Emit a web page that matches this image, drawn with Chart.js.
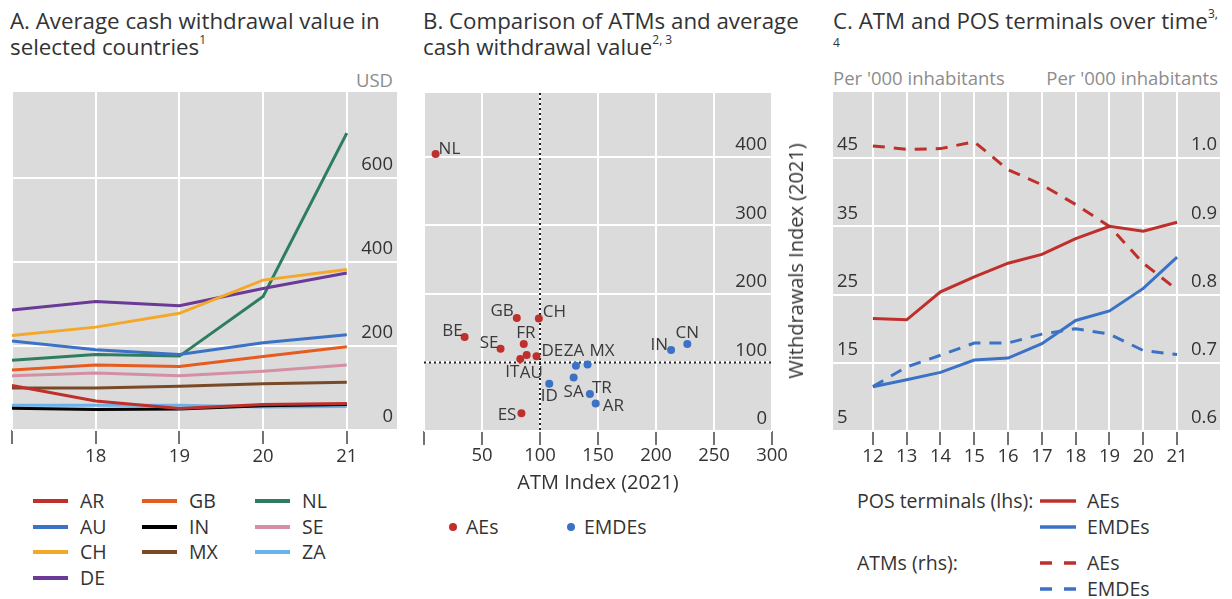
<!DOCTYPE html>
<html>
<head>
<meta charset="utf-8">
<script src="https://cdn.jsdelivr.net/npm/chart.js@4.4.1/dist/chart.umd.min.js"></script>
<style>
  body { margin: 0; width: 1232px; height: 599px; background: #fff; font-family: "Open Sans", sans-serif; color: #333; position: relative; overflow: hidden; }
  .abs { position: absolute; white-space: nowrap; }
  .title { font-size: 22.3px; line-height: 26px; color: #333; }
  .title sup { font-size: 12px; line-height: 0; position: relative; top: -3px; }
  .unit { font-size: 18.5px; color: #8c8c8c; line-height: 22px; }
  .lg { font-size: 19.5px; line-height: 24px; color: #333; }
  .wrap { position: absolute; }
</style>
</head>
<body>

<div class="abs title" style="left:10px;top:8px">A. Average cash withdrawal value in<br>selected countries<sup>1</sup></div>
<div class="abs title" style="left:423px;top:8px">B. Comparison of ATMs and average<br>cash withdrawal value<sup>2, 3</sup></div>
<div class="abs title" style="left:833px;top:8px">C. ATM and POS terminals over time<sup>3,</sup><br><span style="font-size:12px;position:relative;top:-8px">4</span></div>

<div class="abs unit" style="right:839px;top:69px">USD</div>
<div class="abs unit" style="left:833px;top:67px">Per '000 inhabitants</div>
<div class="abs unit" style="right:14px;top:67px">Per '000 inhabitants</div>

<div class="wrap" style="left:0;top:80px;width:410px;height:395px"><canvas id="chartA"></canvas></div>
<div class="wrap" style="left:410px;top:80px;width:400px;height:420px"><canvas id="chartB"></canvas></div>
<div class="wrap" style="left:810px;top:80px;width:422px;height:395px"><canvas id="chartC"></canvas></div>

<div class="abs lg" style="left:796px;top:261px;transform:translate(-50%,-50%) rotate(-90deg);font-size:20px">Withdrawals Index (2021)</div>

<div id="legendA"></div>
<div id="legendB"></div>
<div id="legendC"></div>

<script>
// A. average cash withdrawal value (USD)
const yearsA = [17, 18, 19, 20, 21];
const ticksA = [0, 200, 400, 600];
const cwAR = [106, 69, 51, 61, 63];
const cwAU = [212, 191, 180, 208, 227];
const cwCH = [225, 245, 278, 357, 382];
const cwDE = [286, 306, 296, 337, 374];
const cwGB = [143, 155, 151, 175, 198];
const cwIN = [52, 49, 50, 58, 61];
const cwMX = [100, 100, 104, 110, 114];
const cwNL = [166, 180, 176, 318, 707];
const cwSE = [129, 136, 129, 140, 155];
const cwZA = [59, 59, 59, 55, 56];

// B. ATM index vs withdrawals index (2021)
const aeNames = ['NL', 'BE', 'GB', 'CH', 'SE', 'FR', 'IT', 'AU', 'DE', 'ES'];
const aeAtm = [10, 35, 80, 99, 66, 86, 83, 88.5, 97, 84];
const aeWd = [404, 137, 165, 164, 120, 127, 105, 111, 109, 26];
const emNames = ['CN', 'IN', 'ZA', 'MX', 'SA', 'ID', 'TR', 'AR'];
const emAtm = [227, 213, 131, 141, 129, 108, 143, 148];
const emWd = [127, 118, 95, 97, 78, 69, 54, 40];
const ticksBx = [0, 50, 100, 150, 200, 250, 300];
const ticksBy = [0, 100, 200, 300, 400];
const refAtm = 100;
const refWd = 100;

// C. ATM and POS terminals per '000 inhabitants
const yearsC = [12, 13, 14, 15, 16, 17, 18, 19, 20, 21];
const posTicks = [5, 15, 25, 35, 45];
const atmTicks = [0.6, 0.7, 0.8, 0.9, 1.0];
const posAE = [21.5, 21.3, 25.4, 27.6, 29.6, 30.9, 33.2, 35.0, 34.3, 35.6];
const posEM = [11.5, 12.5, 13.6, 15.4, 15.7, 17.8, 21.2, 22.6, 25.9, 30.5];
const atmAE = [1.018, 1.013, 1.014, 1.024, 0.983, 0.961, 0.932, 0.900, 0.846, 0.807];
const atmEM = [0.665, 0.694, 0.711, 0.729, 0.729, 0.742, 0.750, 0.742, 0.718, 0.712];

const RED = '#bf2f2c';
const BLUE = '#3b72c6';
const GREY_BG = '#dbdbdb';
const FONT = 'Open Sans';
const tickFont = { family: FONT, size: 18.5 };

// grey plot background
const bgPlugin = {
  id: 'bg',
  beforeDraw(chart) {
    const { ctx, chartArea: a } = chart;
    ctx.save();
    ctx.fillStyle = GREY_BG;
    ctx.fillRect(a.left, a.top, a.width, a.height);
    ctx.restore();
  }
};

// fix axis box sizes so the plot area lands where it should
const fixSize = (w, h) => (s) => {
  if (w !== null) s.width = w;
  if (h !== null) s.height = h;
  s.paddingLeft = s.paddingRight = s.paddingTop = s.paddingBottom = 0;
};
const setTicks = (vals) => (s) => { s.ticks = vals.map(v => ({ value: v })); };

const xGrid = { color: '#fff', lineWidth: 2, tickColor: '#444', tickLength: 14, tickWidth: 1.5 };
const yGrid = { color: '#fff', lineWidth: 2, drawTicks: false };

Chart.defaults.font.family = FONT;
Chart.defaults.color = '#333';

// ---------- A ----------
const seriesA = [
  ['AR', cwAR, '#bf2f2c'],
  ['AU', cwAU, '#3b72c6'],
  ['CH', cwCH, '#f3a829'],
  ['DE', cwDE, '#6b3a96'],
  ['GB', cwGB, '#e65c1e'],
  ['IN', cwIN, '#000000'],
  ['MX', cwMX, '#7a4a26'],
  ['NL', cwNL, '#2e7d60'],
  ['SE', cwSE, '#d58fa3'],
  ['ZA', cwZA, '#6cb2ea']
];

new Chart(document.getElementById('chartA'), {
  type: 'line',
  data: {
    datasets: seriesA.map(([name, vals, col]) => ({
      label: name,
      data: yearsA.map((x, i) => ({ x, y: vals[i] })),
      borderColor: col,
      borderWidth: 3,
      pointRadius: 0,
      tension: 0
    }))
  },
  options: {
    responsive: true,
    maintainAspectRatio: false,
    animation: false,
    layout: { padding: { left: 12, top: 12, right: 13, bottom: 0 } },
    plugins: { legend: { display: false }, tooltip: { enabled: false } },
    scales: {
      x: {
        type: 'linear', min: 17, max: 21.6,
        afterBuildTicks: setTicks(yearsA),
        afterFit: fixSize(null, 45),
        grid: xGrid, border: { display: false },
        ticks: { font: tickFont, padding: 2, maxRotation: 0, autoSkip: false,
          callback: v => v === yearsA[0] ? '' : String(v) }
      },
      y: {
        position: 'right', min: 0, max: 805,
        afterBuildTicks: setTicks(ticksA),
        afterFit: fixSize(0, null),
        grid: yGrid, border: { display: false },
        ticks: { font: tickFont, mirror: true, padding: -4, labelOffset: -13 }
      }
    }
  },
  plugins: [bgPlugin]
});

// legend A: three columns
const legA = document.getElementById('legendA');
const colA = [[0, 1, 2, 3], [4, 5, 6], [7, 8, 9]];
const colX = [33, 142, 255];
colA.forEach((idxs, c) => idxs.forEach((k, r) => {
  const [name, , col] = seriesA[k];
  const y = 501 + r * 25.7;
  legA.insertAdjacentHTML('beforeend',
    `<div class="abs" style="left:${colX[c]}px;top:${y - 2}px;width:35px;height:4px;background:${col}"></div>` +
    `<div class="abs lg" style="left:${colX[c] + 47}px;top:${y - 12}px">${name}</div>`);
}));

// ---------- B ----------
const labelPos = {
  NL: [3, -5, 'left'], BE: [-2, -6, 'right'], GB: [-3, -7, 'right'], CH: [4, -6, 'left'],
  SE: [-2, -6, 'right'], FR: [2, -11, 'center'], IT: [-1, 13, 'right'], AU: [-7, 18, 'left'],
  DE: [5, -5, 'left'], ES: [-5, 2, 'right'],
  CN: [0, -11, 'center'], IN: [-3, -5, 'right'], ZA: [-2, -15, 'center'], MX: [2, -13, 'left'],
  SA: [0, 15, 'center'], ID: [0, 12, 'center'], TR: [2, -6, 'left'], AR: [7, 3, 'left']
};

const scatterDeco = {
  id: 'scatterDeco',
  beforeDatasetsDraw(chart) {
    const { ctx, chartArea: a, scales: { x, y } } = chart;
    const px = x.getPixelForValue(refAtm);
    const py = y.getPixelForValue(refWd);
    ctx.save();
    ctx.strokeStyle = '#222';
    ctx.lineWidth = 2;
    ctx.setLineDash([2, 3]);
    ctx.beginPath();
    ctx.moveTo(px, a.top); ctx.lineTo(px, a.bottom);
    ctx.moveTo(a.left, py); ctx.lineTo(a.right, py);
    ctx.stroke();
    ctx.restore();
  },
  afterDatasetsDraw(chart) {
    const { ctx } = chart;
    ctx.save();
    ctx.font = `17px "${FONT}"`;
    ctx.fillStyle = '#3a3a3a';
    ctx.textBaseline = 'middle';
    chart.data.datasets.forEach((ds, i) => {
      chart.getDatasetMeta(i).data.forEach((pt, j) => {
        const name = ds.names[j];
        const [dx, dy, align] = labelPos[name];
        ctx.textAlign = align;
        ctx.fillText(name, pt.x + dx, pt.y + dy);
      });
    });
    ctx.restore();
  }
};

new Chart(document.getElementById('chartB'), {
  type: 'scatter',
  data: {
    datasets: [
      { label: 'AEs', names: aeNames, data: aeAtm.map((x, i) => ({ x, y: aeWd[i] })),
        backgroundColor: RED, borderWidth: 0, pointRadius: 4 },
      { label: 'EMDEs', names: emNames, data: emAtm.map((x, i) => ({ x, y: emWd[i] })),
        backgroundColor: BLUE, borderWidth: 0, pointRadius: 4 }
    ]
  },
  options: {
    responsive: true,
    maintainAspectRatio: false,
    animation: false,
    layout: { padding: { left: 14, top: 13, right: 38, bottom: 0 } },
    plugins: { legend: { display: false }, tooltip: { enabled: false } },
    scales: {
      x: {
        type: 'linear', min: 0, max: 300,
        afterBuildTicks: setTicks(ticksBx),
        afterFit: fixSize(null, 69),
        grid: xGrid, border: { display: false },
        ticks: { font: tickFont, padding: 0, maxRotation: 0, autoSkip: false,
          callback: v => v === 0 ? '' : String(v) },
        title: { display: true, text: 'ATM Index (2021)', font: { family: FONT, size: 20 }, padding: { top: 0, bottom: 5 } }
      },
      y: {
        position: 'right', min: 0, max: 493,
        afterBuildTicks: setTicks(ticksBy),
        afterFit: fixSize(0, null),
        grid: yGrid, border: { display: false },
        ticks: { font: tickFont, mirror: true, padding: -5, labelOffset: -12 }
      }
    }
  },
  plugins: [bgPlugin, scatterDeco]
});

document.getElementById('legendB').innerHTML =
  `<div class="abs" style="left:449px;top:523px;width:8px;height:8px;border-radius:50%;background:${RED}"></div>` +
  `<div class="abs lg" style="left:466px;top:515px">AEs</div>` +
  `<div class="abs" style="left:567px;top:523px;width:8px;height:8px;border-radius:50%;background:${BLUE}"></div>` +
  `<div class="abs lg" style="left:584px;top:515px">EMDEs</div>`;

// ---------- C ----------
new Chart(document.getElementById('chartC'), {
  type: 'line',
  data: {
    datasets: [
      { label: 'POS AEs', yAxisID: 'y', data: yearsC.map((x, i) => ({ x, y: posAE[i] })),
        borderColor: RED, borderWidth: 3, pointRadius: 0, tension: 0 },
      { label: 'POS EMDEs', yAxisID: 'y', data: yearsC.map((x, i) => ({ x, y: posEM[i] })),
        borderColor: BLUE, borderWidth: 3, pointRadius: 0, tension: 0 },
      { label: 'ATM AEs', yAxisID: 'y2', data: yearsC.map((x, i) => ({ x, y: atmAE[i] })),
        borderColor: RED, borderWidth: 3, borderDash: [12, 9], pointRadius: 0, tension: 0 },
      { label: 'ATM EMDEs', yAxisID: 'y2', data: yearsC.map((x, i) => ({ x, y: atmEM[i] })),
        borderColor: BLUE, borderWidth: 3, borderDash: [12, 9], pointRadius: 0, tension: 0 }
    ]
  },
  options: {
    responsive: true,
    maintainAspectRatio: false,
    animation: false,
    layout: { padding: { left: 23, top: 12, right: 12, bottom: 0 } },
    plugins: { legend: { display: false }, tooltip: { enabled: false } },
    scales: {
      x: {
        type: 'linear', min: 10.82, max: 22.27,
        afterBuildTicks: setTicks(yearsC),
        afterFit: fixSize(null, 44),
        grid: xGrid, border: { display: false },
        ticks: { font: tickFont, padding: 1, maxRotation: 0, autoSkip: false, callback: v => String(v) }
      },
      y: {
        position: 'left', min: 5, max: 54.7,
        afterBuildTicks: setTicks(posTicks),
        afterFit: fixSize(0, null),
        grid: yGrid, border: { display: false },
        ticks: { font: tickFont, mirror: true, padding: 4, labelOffset: -13 }
      },
      y2: {
        position: 'right', min: 0.6, max: 1.097,
        afterBuildTicks: setTicks(atmTicks),
        afterFit: fixSize(0, null),
        grid: { display: false }, border: { display: false },
        ticks: { font: tickFont, mirror: true, padding: -3, labelOffset: -13, callback: v => v.toFixed(1) }
      }
    }
  },
  plugins: [bgPlugin]
});

// legend C
const legItems = [
  ['POS terminals (lhs):', 'AEs', RED, false, 501],
  ['', 'EMDEs', BLUE, false, 527],
  ['ATMs (rhs):', 'AEs', RED, true, 563],
  ['', 'EMDEs', BLUE, true, 589]
];
document.getElementById('legendC').innerHTML = legItems.map(([head, name, col, dashed, y]) =>
  (head ? `<div class="abs lg" style="left:857px;top:${y - 12}px">${head}</div>` : '') +
  `<svg class="abs" style="left:1040px;top:${y - 3}px" width="36" height="6"><line x1="0" y1="3" x2="36" y2="3" stroke="${col}" stroke-width="3.5" ${dashed ? 'stroke-dasharray="12 12"' : ''}/></svg>` +
  `<div class="abs lg" style="left:1087px;top:${y - 12}px">${name}</div>`
).join('');
</script>
</body>
</html>
